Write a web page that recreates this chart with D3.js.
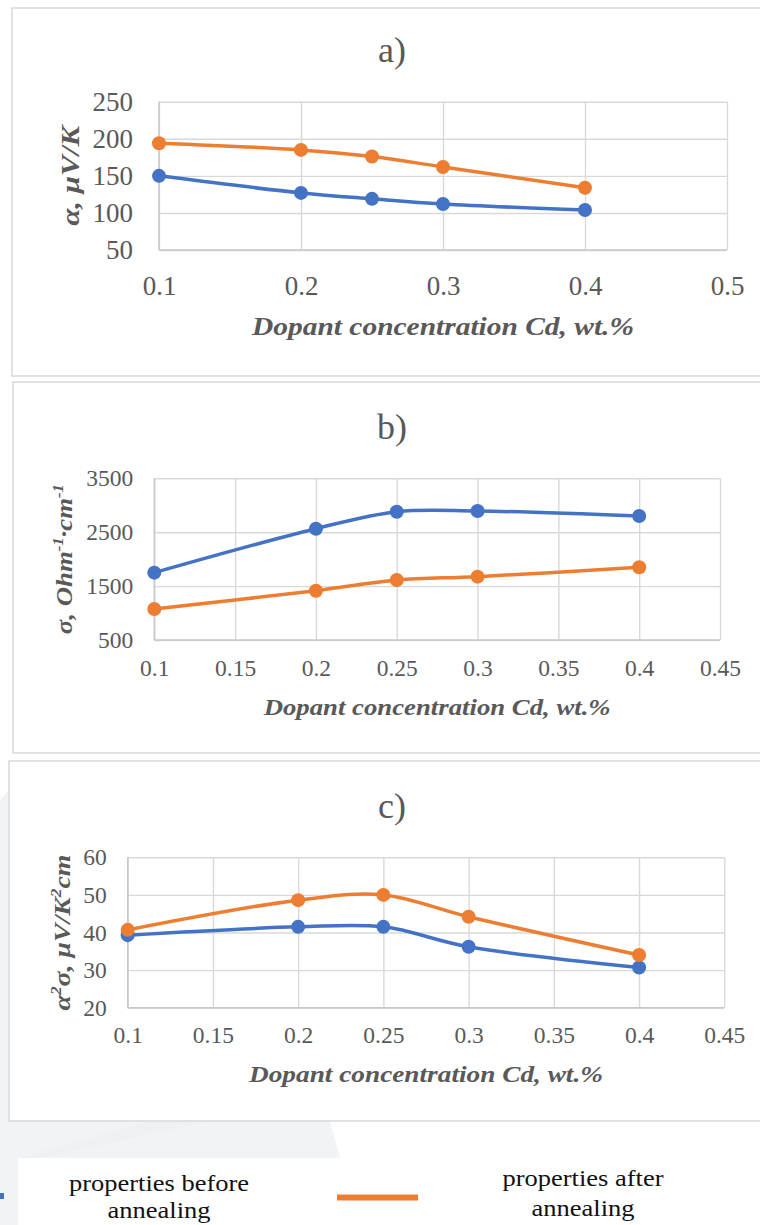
<!DOCTYPE html>
<html>
<head>
<meta charset="utf-8">
<script src="https://cdn.jsdelivr.net/npm/d3@7"></script>
<style>
  body { margin: 0; background: #fff; }
  svg { display: block; }
  text { font-family: "Liberation Serif", "Times New Roman", serif; }
</style>
</head>
<body>
<svg id="chart" width="760" height="1225"></svg>
<script>
// data
const dopant = [0.1, 0.2, 0.25, 0.3, 0.4];

const seebeckBefore = [150, 127, 119, 112, 104];
const seebeckAfter  = [194, 185, 176, 162, 134];

const condBefore = [1750, 2565, 2880, 2893, 2800];
const condAfter  = [1075, 1415, 1613, 1675, 1849];

const pfBefore = [39.3, 41.5, 41.5, 36.2, 30.7];
const pfAfter  = [40.7, 48.6, 50.0, 44.2, 34.0];

const xTicksA = [0.1, 0.2, 0.3, 0.4, 0.5];
const xTicksBC = [0.1, 0.15, 0.2, 0.25, 0.3, 0.35, 0.4, 0.45];
const yTicksA = [50, 100, 150, 200, 250];
const yTicksB = [500, 1500, 2500, 3500];
const yTicksC = [20, 30, 40, 50, 60];

const legendLabels = [["properties before", "annealing"], ["properties after", "annealing"]];

const BLUE = "#4472C4", ORANGE = "#ED7D31", GRID = "#d9d9d9", TXT = "#595959";
const SERIF = "Liberation Serif";

const svg = d3.select("#chart");

// faint watermark behind the figure
const bg = svg.append("g");
bg.append("path")
  .attr("d", "M0,800 L9,790 L9,1121 L330,1121 L340,1158 L18,1158 L18,1225 L0,1225 Z")
  .attr("fill", "#f2f3f6");
bg.append("path")
  .attr("d", "M150,1121 L210,1121 L40,1158 L18,1158 Z")
  .attr("fill", "#eceef2").attr("opacity", 0.5);

function panel(o) {
  const g = svg.append("g");
  g.append("rect")
    .attr("x", o.box[0]).attr("y", o.box[1])
    .attr("width", o.box[2]).attr("height", o.box[3])
    .attr("fill", "#fff").attr("stroke", GRID).attr("stroke-width", 1.5);

  const x = d3.scaleLinear().domain(d3.extent(o.xTicks)).range([o.plot[0], o.plot[1]]);
  const y = d3.scaleLinear().domain(d3.extent(o.yTicks)).range([o.plot[3], o.plot[2]]);
  const w = o.plot[1] - o.plot[0], h = o.plot[3] - o.plot[2];

  // grid
  g.append("g").attr("transform", `translate(${o.plot[0]},0)`)
    .call(d3.axisLeft(y).tickValues(o.yTicks).tickSize(-w).tickFormat(""))
    .call(s => s.select(".domain").remove())
    .selectAll("line").attr("stroke", GRID).attr("stroke-width", 1.4);
  g.append("g").attr("transform", `translate(0,${o.plot[3]})`)
    .call(d3.axisBottom(x).tickValues(o.xTicks).tickSize(-h).tickFormat(""))
    .call(s => s.select(".domain").remove())
    .selectAll("line").attr("stroke", GRID).attr("stroke-width", 1.4);

  // axis lines
  g.append("line").attr("x1", o.plot[0]).attr("x2", o.plot[1])
    .attr("y1", o.plot[3]).attr("y2", o.plot[3]).attr("stroke", "#c8c8c8").attr("stroke-width", 1.5);
  g.append("line").attr("x1", o.plot[0]).attr("x2", o.plot[0])
    .attr("y1", o.plot[2]).attr("y2", o.plot[3]).attr("stroke", "#c8c8c8").attr("stroke-width", 1.5);

  // tick labels
  const ya = g.append("g").attr("transform", `translate(${o.plot[0]},0)`)
    .call(d3.axisLeft(y).tickValues(o.yTicks).tickSize(0).tickPadding(o.yGap).tickFormat(d3.format("d")))
    .attr("font-family", SERIF).attr("font-size", o.tick);
  ya.select(".domain").remove();
  ya.selectAll("text").attr("fill", TXT);

  const xa = g.append("g").attr("transform", `translate(0,${o.plot[3]})`)
    .call(d3.axisBottom(x).tickValues(o.xTicks).tickSize(0).tickFormat(d => String(d)))
    .attr("font-family", SERIF).attr("font-size", o.tick);
  xa.select(".domain").remove();
  xa.selectAll("text").attr("fill", TXT).attr("y", o.xBase - o.plot[3]).attr("dy", 0);

  // titles
  g.append("text").attr("x", o.titleX).attr("y", o.titleY)
    .attr("text-anchor", "middle").attr("fill", TXT).style("font-size", o.titleSize + "px")
    .text(o.title);

  g.append("text").attr("x", (o.plot[0] + o.plot[1]) / 2).attr("y", o.xTitleY)
    .attr("text-anchor", "middle").attr("fill", TXT)
    .style("font-size", o.axisSize + "px").style("font-weight", "bold").style("font-style", "italic")
    .attr("textLength", o.xTitleLen).attr("lengthAdjust", "spacingAndGlyphs")
    .text("Dopant concentration Cd, wt.%");

  const yt = g.append("text")
    .attr("transform", `translate(${o.yTitleX},${(o.plot[2] + o.plot[3]) / 2}) rotate(-90)`)
    .attr("text-anchor", "middle").attr("fill", TXT)
    .style("font-size", o.axisSize + "px").style("font-weight", "bold").style("font-style", "italic")
    .attr("textLength", o.yTitleLen).attr("lengthAdjust", "spacingAndGlyphs");
  o.yTitle.forEach(p => {
    const t = yt.append("tspan").text(p[0]);
    if (p[1] === "sup") t.attr("dy", -9).style("font-size", (o.axisSize * 0.62) + "px");
    if (p[1] === "down") t.attr("dy", 9);
  });

  // series
  const line = d3.line().x(d => x(d[0])).y(d => y(d[1])).curve(d3.curveCatmullRom.alpha(0.5));
  o.series.forEach(s => {
    const pts = dopant.map((d, i) => [d, s.values[i]]);
    g.append("path").datum(pts).attr("d", line)
      .attr("fill", "none").attr("stroke", s.color).attr("stroke-width", 3.5);
    g.selectAll(null).data(pts).enter().append("circle")
      .attr("cx", d => x(d[0])).attr("cy", d => y(d[1])).attr("r", 7).attr("fill", s.color);
  });
}

panel({
  box: [12, 8, 770, 368], plot: [159, 727, 101.7, 250],
  xTicks: xTicksA, yTicks: yTicksA, tick: 27, yGap: 26, xBase: 295,
  title: "a)", titleX: 392, titleY: 62, titleSize: 36,
  axisSize: 26, xTitleY: 335, xTitleLen: 382,
  yTitleX: 79, yTitleLen: 100, yTitle: [["α, μV/K"]],
  series: [{ values: seebeckBefore, color: BLUE }, { values: seebeckAfter, color: ORANGE }]
});

panel({
  box: [13, 382, 770, 371], plot: [154.3, 720, 478.3, 640],
  xTicks: xTicksBC, yTicks: yTicksB, tick: 23.5, yGap: 21, xBase: 676,
  title: "b)", titleX: 392, titleY: 439, titleSize: 36,
  axisSize: 24, xTitleY: 715, xTitleLen: 347,
  yTitleX: 72, yTitleLen: 150,
  yTitle: [["σ, Ohm"], ["-1", "sup"], ["·cm", "down"], ["-1", "sup"]],
  series: [{ values: condBefore, color: BLUE }, { values: condAfter, color: ORANGE }]
});

panel({
  box: [9, 761, 770, 360], plot: [127.7, 724.3, 857.3, 1007.7],
  xTicks: xTicksBC, yTicks: yTicksC, tick: 23.5, yGap: 21, xBase: 1043,
  title: "c)", titleX: 392, titleY: 818, titleSize: 36,
  axisSize: 24, xTitleY: 1082, xTitleLen: 354,
  yTitleX: 70, yTitleLen: 156,
  yTitle: [["α"], ["2", "sup"], ["σ, μV/K", "down"], ["2", "sup"], ["cm", "down"]],
  series: [{ values: pfBefore, color: BLUE }, { values: pfAfter, color: ORANGE }]
});

// legend
const lg = svg.append("g");
lg.append("line").attr("x1", -40).attr("x2", 4).attr("y1", 1196).attr("y2", 1196)
  .attr("stroke", BLUE).attr("stroke-width", 6);
lg.append("line").attr("x1", 337).attr("x2", 418).attr("y1", 1197.5).attr("y2", 1197.5)
  .attr("stroke", ORANGE).attr("stroke-width", 6);
// [centre x, first baseline, second baseline, first width, second width]
const legendPos = [[159, 1191, 1218, 180, 103], [583, 1186, 1216, 161, 103]];
legendLabels.forEach((lines, i) => {
  const p = legendPos[i];
  lines.forEach((t, j) => {
    lg.append("text").attr("x", p[0]).attr("y", p[1 + j])
      .attr("text-anchor", "middle").attr("fill", "#111").style("font-size", "23px")
      .attr("textLength", p[3 + j]).attr("lengthAdjust", "spacingAndGlyphs")
      .text(t);
  });
});
</script>
</body>
</html>
